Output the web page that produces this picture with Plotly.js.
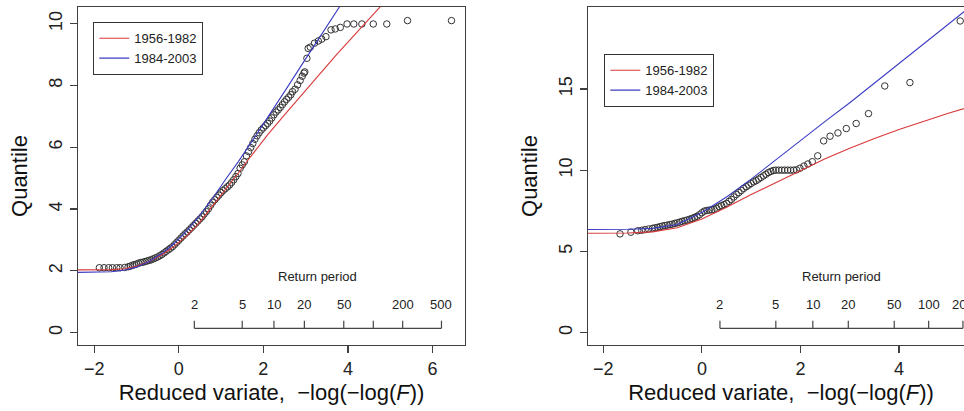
<!DOCTYPE html>
<html>
<head>
<meta charset="utf-8">
<script src="https://cdn.plot.ly/plotly-3.0.1.min.js"></script>
<style>
html,body{margin:0;padding:0;overflow:hidden;background:#fff;}
#chart{width:990px;height:411px;}
</style>
</head>
<body>
<div id="chart"></div>
<script>
// ---------- DATA ----------
const seriesNames = ["1956-1982", "1984-2003"];

// Left panel fitted curves
const leftRedX  = [-2.4,-2.0,-1.6,-1.3,-1.0,-0.7,-0.4,-0.1,0.2,0.5,0.8,1.1,1.4,1.7,2.1,2.5,2.9,3.3,3.7,4.2,4.8];
const leftRedY  = [2.03,2.03,2.04,2.07,2.15,2.30,2.52,2.80,3.15,3.58,4.10,4.62,5.15,5.70,6.40,7.05,7.69,8.33,8.95,9.70,10.6];
const leftBlueX = [-2.4,-2.0,-1.6,-1.3,-1.0,-0.7,-0.4,-0.1,0.2,0.5,0.8,1.1,1.4,1.75,2.1,2.5,3.0,3.4,3.85];
const leftBlueY = [1.95,1.95,1.97,2.02,2.12,2.30,2.56,2.90,3.32,3.80,4.35,4.95,5.52,6.23,6.95,7.80,8.86,9.70,10.65];

// Left panel observed quantiles
const leftPtsX = [-1.88,-1.77,-1.66,-1.57,-1.47,-1.39,-1.28,
  -1.20,-1.15,-1.10,-1.05,-1.00,-0.95,-0.90,-0.85,-0.80,-0.75,-0.70,-0.65,-0.60,-0.55,-0.50,-0.45,-0.40,-0.35,-0.30,-0.25,-0.20,-0.15,-0.10,-0.05,
  0.00,0.05,0.10,0.15,0.20,0.25,0.30,0.35,0.40,0.45,0.50,0.55,0.60,0.65,0.70,0.75,0.80,0.85,0.90,0.95,
  1.00,1.05,1.10,1.15,1.20,1.25,1.30,1.35,1.40,1.45,1.50,1.55,1.60,1.65,1.70,1.75,1.80,1.85,1.90,1.95,
  2.00,2.05,2.10,2.15,2.20,2.25,2.30,2.35,2.40,2.45,2.50,2.55,2.60,2.65,2.69,2.75,2.81,2.87,2.92,2.96,2.98,
  3.03,3.06,3.11,3.21,3.30,3.38,3.48,3.60,3.70,3.82,3.98,4.14,4.33,4.60,4.92,5.41,6.45];
const leftPtsY = [2.10,2.10,2.10,2.10,2.10,2.10,2.11,
  2.13,2.15,2.18,2.20,2.22,2.25,2.27,2.28,2.30,2.32,2.34,2.36,2.39,2.42,2.45,2.49,2.53,2.58,2.63,2.68,2.73,2.78,2.85,2.92,
  2.99,3.06,3.13,3.20,3.26,3.33,3.40,3.47,3.54,3.61,3.68,3.75,3.84,3.92,4.01,4.12,4.22,4.30,4.38,4.45,
  4.53,4.60,4.66,4.72,4.78,4.86,4.95,5.05,5.15,5.32,5.43,5.53,5.72,5.86,5.99,6.12,6.26,6.37,6.47,6.56,
  6.63,6.70,6.77,6.85,6.95,7.05,7.14,7.21,7.29,7.38,7.47,7.55,7.62,7.70,7.80,7.88,8.02,8.16,8.30,8.40,8.44,
  8.88,9.20,9.24,9.37,9.44,9.50,9.58,9.80,9.83,9.88,9.99,9.99,9.99,9.99,9.99,10.10,10.10];

// Right panel fitted curves
const rightRedX  = [-2.35,-1.5,-1.0,-0.5,0.0,0.5,1.0,1.5,2.0,2.5,3.0,3.5,4.0,4.5,5.0,5.5,6.0];
const rightRedY  = [6.12,6.13,6.20,6.45,7.00,7.72,8.50,9.25,9.98,10.70,11.35,11.95,12.50,13.00,13.50,13.95,14.40];
const rightBlueX = [-2.35,-1.5,-1.0,-0.5,0.0,0.5,1.0,1.5,2.0,2.5,3.0,3.5,4.0,4.5,5.0,5.5,6.0];
const rightBlueY = [6.35,6.36,6.42,6.65,7.40,8.35,9.45,10.65,11.85,13.00,14.15,15.35,16.55,17.75,18.98,20.20,21.40];

// Right panel observed quantiles
const rightPtsX = [-1.66,-1.44,-1.30,-1.22,-1.15,-1.08,-1.00,-0.95,-0.90,-0.85,-0.80,-0.75,-0.70,-0.65,-0.60,-0.55,-0.50,-0.45,-0.40,-0.35,-0.30,-0.25,-0.20,-0.15,-0.10,-0.05,
  0.00,0.05,0.10,0.15,0.20,0.25,0.30,0.35,0.40,0.45,0.50,0.55,0.60,0.65,0.70,0.75,0.80,0.85,0.90,0.95,
  1.00,1.05,1.10,1.15,1.20,1.25,1.30,1.35,1.40,1.45,1.50,1.56,1.62,1.68,1.74,1.80,1.86,1.92,1.99,
  2.07,2.15,2.24,2.35,2.47,2.60,2.76,2.93,3.13,3.38,3.71,4.22,5.24];
const rightPtsY = [6.08,6.18,6.27,6.30,6.34,6.38,6.42,6.45,6.48,6.52,6.56,6.59,6.62,6.65,6.68,6.72,6.76,6.80,6.85,6.89,6.93,6.98,7.03,7.09,7.16,7.25,
  7.38,7.48,7.52,7.54,7.56,7.58,7.65,7.75,7.82,7.88,7.95,8.08,8.20,8.35,8.50,8.62,8.75,8.88,8.98,9.08,
  9.18,9.28,9.35,9.45,9.55,9.65,9.75,9.85,9.92,9.98,10.0,10.0,10.0,10.0,10.0,10.0,10.0,10.02,10.12,
  10.25,10.38,10.52,10.88,11.80,12.09,12.29,12.56,12.87,13.48,15.18,15.39,19.18];

// Return period axes
const leftReturnPeriods  = [2,5,10,20,50,100,200,500];
const leftReturnLabels   = ["2","5","10","20","50","","200","500"];
const rightReturnPeriods = [2,5,10,20,50,100,200];
const rightReturnLabels  = ["2","5","10","20","50","100","200"];
const returnTitle = "Return period";
const xTitle = "Reduced variate,  \u2212log(\u2212log(<i>F</i>))";
const yTitle = "Quantile";

// ---------- PLOT ----------
const W = 990, H = 411;
const FONT = "Liberation Sans, Arial, sans-serif";
const RED = "#d9383a", BLUE = "#3b3bc4", INK = "#333333";
const rv = T => -Math.log(-Math.log(1 - 1 / T));

const lineTrace = (x, y, color, name, xa, ya, lg) => ({
  x, y, type: "scatter", mode: "lines", name,
  line: {color, width: 1.1}, xaxis: xa, yaxis: ya, legend: lg, hoverinfo: "skip"
});
const ptsTrace = (x, y, xa, ya) => ({
  x, y, type: "scatter", mode: "markers", showlegend: false,
  marker: {symbol: "circle-open", size: 6.5, color: INK, line: {width: 1, color: INK}},
  xaxis: xa, yaxis: ya, hoverinfo: "skip"
});

const data = [
  ptsTrace(leftPtsX, leftPtsY, "x", "y"),
  lineTrace(leftRedX, leftRedY, RED, seriesNames[0], "x", "y", "legend"),
  lineTrace(leftBlueX, leftBlueY, BLUE, seriesNames[1], "x", "y", "legend"),
  ptsTrace(rightPtsX, rightPtsY, "x2", "y2"),
  lineTrace(rightRedX, rightRedY, RED, seriesNames[0], "x2", "y2", "legend2"),
  lineTrace(rightBlueX, rightBlueY, BLUE, seriesNames[1], "x2", "y2", "legend2")
];

const yDom = [(H - 345) / H, (H - 7) / H];
const axisCommon = {
  showline: true, mirror: true, linecolor: "#404040", linewidth: 1.3,
  ticks: "outside", ticklen: 7, tickcolor: "#404040", tickwidth: 1.2,
  showgrid: false, zeroline: false,
  tickfont: {family: FONT, size: 18, color: "#222"},
  title: {font: {family: FONT, size: 22, color: "#111"}}
};
const xAxis = (dom, range, anchor) => Object.assign({}, axisCommon, {
  domain: dom, range, anchor, tickvals: [-2, 0, 2, 4, 6], ticklabelstandoff: 0,
  title: {text: xTitle, font: axisCommon.title.font, standoff: 6}
});
const yAxis = (range, anchor, tv) => Object.assign({}, axisCommon, {
  domain: yDom, range, anchor, tickvals: tv, tickangle: -90, ticklabelstandoff: 1,
  title: {text: yTitle, font: axisCommon.title.font, standoff: 11}
});

const lineY = (H - 328.3) / H, tickTopY = (H - 320.7) / H, labY = (H - 304.3) / H, titY = (H - 276) / H;
const shapes = [], annotations = [];
function returnAxis(periods, labels, xref) {
  const xs = periods.map(rv);
  shapes.push({type: "line", xref, yref: "paper", x0: xs[0], x1: xs[xs.length - 1], y0: lineY, y1: lineY,
               line: {color: "#444", width: 1.2}});
  xs.forEach((v, i) => {
    shapes.push({type: "line", xref, yref: "paper", x0: v, x1: v, y0: lineY, y1: tickTopY,
                 line: {color: "#444", width: 1.2}});
    if (labels[i]) annotations.push({xref, yref: "paper", x: v, y: labY, text: labels[i], showarrow: false,
      xanchor: "center", yanchor: "middle", font: {family: FONT, size: 13, color: "#222"}});
  });
  annotations.push({xref, yref: "paper", x: (xs[0] + xs[xs.length - 1]) / 2, y: titY, text: returnTitle,
    showarrow: false, xanchor: "center", yanchor: "middle", font: {family: FONT, size: 13, color: "#222"}});
}
returnAxis(leftReturnPeriods, leftReturnLabels, "x");
returnAxis(rightReturnPeriods, rightReturnLabels, "x2");

const legendCommon = {
  bgcolor: "rgba(255,255,255,1)", bordercolor: "#333", borderwidth: 1.3,
  font: {family: FONT, size: 13, color: "#222"}, xanchor: "left", yanchor: "top",
  itemwidth: 30, tracegroupgap: 0
};

const layout = {
  width: W, height: H, margin: {l: 0, r: 0, t: 0, b: 0},
  paper_bgcolor: "#fff", plot_bgcolor: "#fff",
  xaxis: xAxis([78 / W, 465 / W], [-2.385, 6.77], "y"),
  yaxis: yAxis([-0.40, 10.54], "x", [0, 2, 4, 6, 8, 10]),
  xaxis2: xAxis([588 / W, 974 / W], [-2.31, 5.52], "y2"),
  yaxis2: yAxis([-0.76, 20.04], "x2", [0, 5, 10, 15]),
  legend: Object.assign({}, legendCommon, {x: 93 / W, y: (H - 22) / H}),
  legend2: Object.assign({}, legendCommon, {x: 604 / W, y: (H - 54) / H}),
  shapes, annotations
};

Plotly.newPlot("chart", data, layout, {displayModeBar: false, staticPlot: true});
</script>
</body>
</html>
